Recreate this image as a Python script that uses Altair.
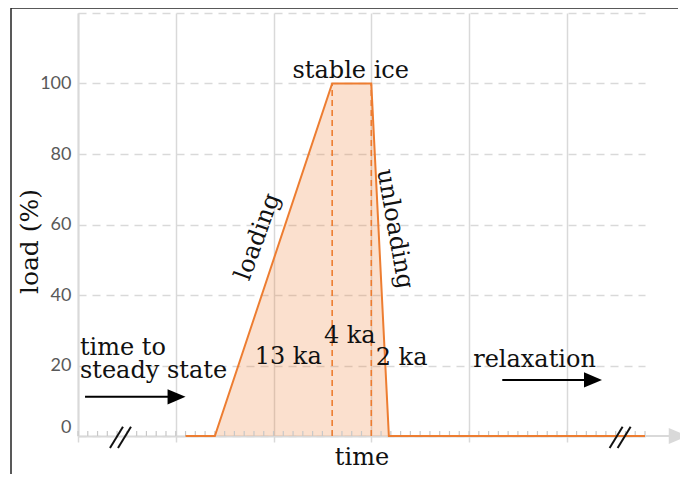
import altair as alt
import pandas as pd

# ---- data ----
profile_time = [11, 14, 26, 30, 31.8, 58.2]
profile_load = [0, 0, 100, 100, 0, 0]
phase_bounds = [26, 30]
minor_ticks = list(range(0, 59))
x_grid = [0, 10, 20, 30, 40, 50]
y_ticks = [0, 20, 40, 60, 80, 100, 120]

# break marks "//" on the time axis
slash_x0 = [3.27, 4.09, 54.38, 55.2]
slash_x1 = [4.6, 5.42, 55.71, 56.53]
slash_y0 = [-3.4, -3.4, -3.4, -3.4]
slash_y1 = [2.6, 2.6, 2.6, 2.6]

# black arrows (start, tip, level)
arrow_x0 = [0.72, 43.4]
arrow_tip = [11.0, 53.6]
arrow_y = [11.1, 15.9]

# labels
center_text = ["stable ice", "13 ka", "4 ka", "2 ka", "relaxation"]
center_x = [27.9, 21.5, 27.8, 33.1, 46.7]
center_y = [101.5, 20.4, 26.4, 20.1, 19.6]
left_text = ["time to", "steady state"]
left_x = [0.2, 0.2]
left_y = [22.9, 16.5]

ORANGE = "#ED7D31"
GRID = "#d9d9d9"
SERIF = "DejaVu Serif"
TXT = "#111111"
FS = 24

xs = alt.Scale(domain=[0, 58], nice=False, zero=False)
ys = alt.Scale(domain=[0, 120], nice=False)

x_axis = alt.Axis(
    values=x_grid, labels=False, ticks=True, tickSize=6, tickColor=GRID, tickWidth=1.5,
    domainColor=GRID, domainWidth=2, grid=True, gridColor=GRID, gridWidth=1.5,
    title="time", titleFont=SERIF, titleFontSize=FS, titleFontWeight="normal",
    titleColor=TXT, titlePadding=3,
)
y_axis = alt.Axis(
    values=y_ticks, labelExpr="datum.value == 120 ? '' : datum.label",
    ticks=False, domainColor=GRID, domainWidth=2,
    grid=True, gridColor=GRID, gridWidth=1.5, gridDash=[8, 6],
    labelFont="Lato", labelFontSize=18, labelColor="#595959", labelPadding=7,
    labelBaseline={"condition": {"test": "datum.value === 0", "value": "bottom"}, "value": "middle"},
    title="load (%)", titleFont=SERIF, titleFontSize=25, titleFontWeight="normal",
    titleColor=TXT, titleX=-49, titleY=228, titleBaseline="middle", titleAngle=270,
)

X = lambda f: alt.X(f, type="quantitative", scale=xs, axis=x_axis)
Y = lambda f: alt.Y(f, type="quantitative", scale=ys, axis=y_axis)

prof = pd.DataFrame({"t": profile_time, "load": profile_load})
base_enc = dict(x=X("t"), y=Y("load"))

area = alt.Chart(prof).mark_area(color=ORANGE, opacity=0.24).encode(**base_enc)
line = alt.Chart(prof).mark_line(color=ORANGE, strokeWidth=2).encode(**base_enc)

bounds = pd.DataFrame({"t": phase_bounds, "lo": [0, 0], "hi": [100, 100]})
dashed = alt.Chart(bounds).mark_rule(color=ORANGE, strokeWidth=1.6, strokeDash=[6, 4]).encode(
    x=X("t"), y=Y("lo"), y2="hi")

ticks = alt.Chart(pd.DataFrame({"t": minor_ticks})).mark_rule(color="#c8c8c8", strokeWidth=1.2).encode(
    x=X("t"), y=alt.value(423), y2=alt.value(418))

slashes = alt.Chart(pd.DataFrame({"x0": slash_x0, "x1": slash_x1, "y0": slash_y0, "y1": slash_y1})).mark_rule(
    color="#111111", strokeWidth=2).encode(x=X("x0"), x2="x1", y=Y("y0"), y2="y1")

axis_ext = alt.Chart(pd.DataFrame({"a": [58.0], "b": [60.8], "y": [0]})).mark_rule(
    color=GRID, strokeWidth=2).encode(x=X("a"), x2="b", y=Y("y"))
axis_head = alt.Chart(pd.DataFrame({"a": [61.4], "y": [0]})).mark_point(
    shape="M-1,-0.85L1,0L-1,0.85Z", filled=True, color=GRID, opacity=1, size=361).encode(x=X("a"), y=Y("y"))

arr = pd.DataFrame({"x0": arrow_x0, "tip": arrow_tip, "y": arrow_y})
arr["end"] = arr["tip"] - 1.5
arr["head"] = arr["tip"] - 0.92
arrow_lines = alt.Chart(arr).mark_rule(color="#000000", strokeWidth=2).encode(
    x=X("x0"), x2="end", y=Y("y"))
arrow_heads = alt.Chart(arr).mark_point(
    shape="M-1,-0.85L1,0L-1,0.85Z", filled=True, color="#000000", opacity=1, size=324).encode(
    x=X("head"), y=Y("y"))

ctext = alt.Chart(pd.DataFrame({"s": center_text, "x": center_x, "y": center_y})).mark_text(
    font=SERIF, fontSize=FS, color=TXT, align="center", baseline="alphabetic").encode(
    x=X("x"), y=Y("y"), text="s")
ltext = alt.Chart(pd.DataFrame({"s": left_text, "x": left_x, "y": left_y})).mark_text(
    font=SERIF, fontSize=FS, color=TXT, align="left", baseline="alphabetic").encode(
    x=X("x"), y=Y("y"), text="s")
load_text = alt.Chart(pd.DataFrame({"s": ["loading"], "x": [18.4], "y": [56.5]})).mark_text(
    font=SERIF, fontSize=FS, color=TXT, align="center", baseline="middle", angle=290).encode(
    x=X("x"), y=Y("y"), text="s")
unload_text = alt.Chart(pd.DataFrame({"s": ["unloading"], "x": [32.4], "y": [58.7]})).mark_text(
    font=SERIF, fontSize=FS, color=TXT, align="center", baseline="middle", angle=80).encode(
    x=X("x"), y=Y("y"), text="s")

frame_data = alt.Data(values=[{}])
frame_left = alt.Chart(frame_data).mark_rule(color="#222222", strokeWidth=1.5).encode(
    x=alt.value(-67), y=alt.value(-5), y2=alt.value(470))
frame_top = alt.Chart(frame_data).mark_rule(color="#222222", strokeWidth=1.5).encode(
    x=alt.value(-67), x2=alt.value(600), y=alt.value(-5))

chart = alt.layer(
    area, ticks, dashed, line, slashes, axis_ext, axis_head, arrow_lines, arrow_heads,
    ctext, ltext, load_text, unload_text, frame_left, frame_top,
).properties(
    width=567, height=423,
    autosize=alt.AutoSizeParams(type="none"),
    padding={"left": 70, "top": 5, "right": 35, "bottom": 38},
    background="white",
).configure_view(stroke=None)

chart.save("out.html", embed_options={"renderer": "svg", "actions": False})
